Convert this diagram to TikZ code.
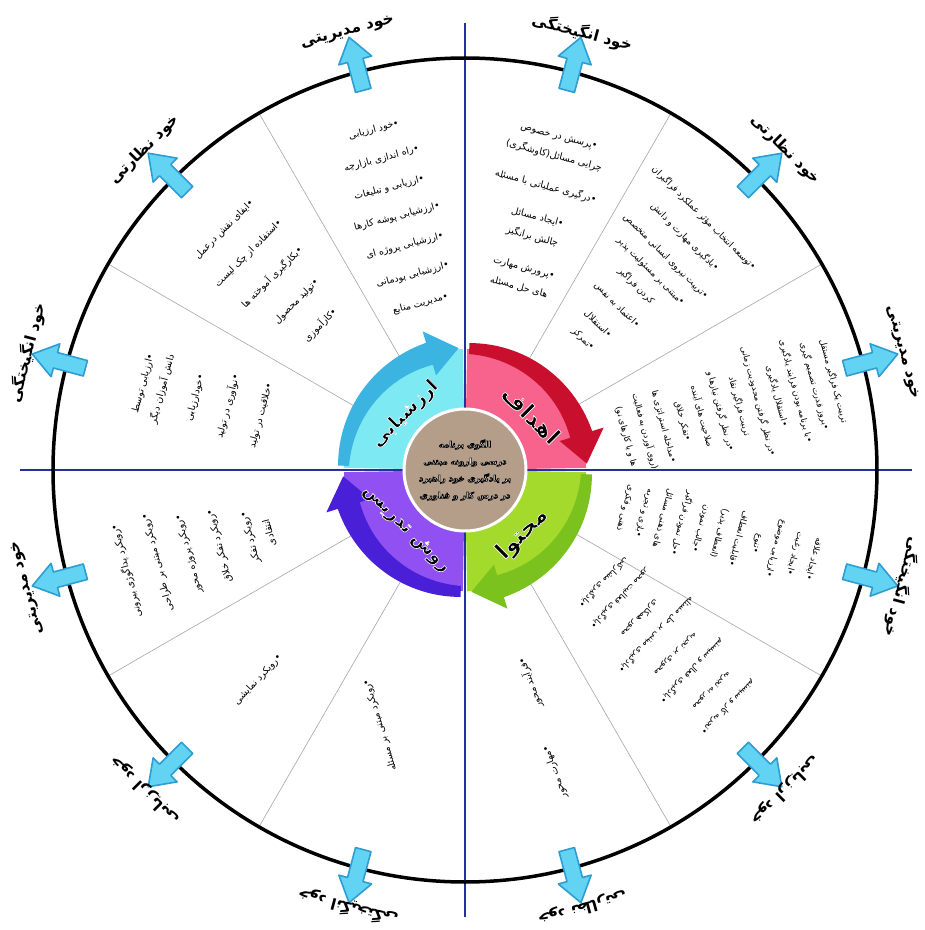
\documentclass[tikz,border=0pt]{standalone}
\usepackage{fontspec}
\TeXXeTstate=1
\newfontfamily\pfont[Script=Arabic]{DejaVu Sans}
\newcommand{\fa}[1]{\beginR #1\endR}
% text with a stroked outline (PDF text render mode 2)
\newcommand{\strokeon}[2]{\special{pdf:literal direct 2 Tr #1 RG #2 w}}
\newcommand{\strokeoff}{\special{pdf:literal direct 0 Tr}}
\definecolor{pinkq}{HTML}{F7638C}
\definecolor{redb}{HTML}{C8102E}
\definecolor{greenq}{HTML}{A3DA2B}
\definecolor{greenb}{HTML}{7CC21F}
\definecolor{purpq}{HTML}{9050F2}
\definecolor{purpb}{HTML}{4A1FD8}
\definecolor{cyanq}{HTML}{7DEAF3}
\definecolor{cyanb}{HTML}{3BB4E2}
\definecolor{centerc}{HTML}{B49E89}
\definecolor{axisblue}{HTML}{24309E}
\definecolor{arrowfill}{HTML}{62D3F2}
\definecolor{arrowline}{HTML}{2E9DD4}
\begin{document}
\begin{tikzpicture}[x=1pt,y=1pt,
  sect/.style={font=\pfont\fontsize{9.5}{20}\selectfont, align=center, inner sep=0pt, text=black},
  sectsmall/.style={font=\pfont\fontsize{8.5}{19.5}\selectfont, align=center, inner sep=0pt, text=black},
  olab/.style={font=\pfont\bfseries\fontsize{15.5}{18}\selectfont, inner sep=0pt},
  qlab/.style={font=\pfont\bfseries\fontsize{23}{26}\selectfont, inner sep=0pt, text=black},
  ctext/.style={font=\pfont\bfseries\fontsize{8.5}{17}\selectfont, align=center, inner sep=0pt, text=white},
  oarrow/.style={fill=arrowfill, draw=arrowline, line width=1.6pt, line join=round},
  axisline/.style={draw=axisblue, line width=1.4pt},
  secline/.style={draw=black!35, line width=0.6pt}]
\useasboundingbox (-465,-460) rectangle (460,470);
\fill[white] (-465,-460) rectangle (460,470);
% sector lines
\foreach \a in {30,60,120,150,210,240,300,330}
  \draw[secline] (\a:122) -- (\a:412);
% axes
\draw[axisline] (-445,0) -- (447,0);
\draw[axisline] (0,447) -- (0,-447);
% big circle
\draw[line width=3.5pt] (0,0) circle[radius=412];
% outer arrows
\foreach \a in {15,45,...,345}
  \draw[oarrow, rotate=\a] (393,-8) -- (424,-8) -- (424,-17) -- (448,0) -- (424,17) -- (424,8) -- (393,8) -- cycle;
% outer labels
\foreach \a/\t [count=\i] in {75/خود انگیختگی, 45/خود نظارتی, 15/خود مدیریتی, 345/خود انگیختگی, 315/خود ارزیابی, 285/خود نظارتی, 255/خود انگیختگی, 225/خود ارزیابی, 195/خود مدیریتی, 165/خود انگیختگی, 135/خود نظارتی, 105/خود مدیریتی}
  \node[olab, rotate=\a-90] (lab\i) at (\a:453) {\fa{\t}};
% quadrant fills
\fill[pinkq] (0,0) -- (1:121) arc[start angle=1, end angle=89, radius=121] -- cycle;
\fill[cyanq] (0,0) -- (91:121) arc[start angle=91, end angle=179, radius=121] -- cycle;
\fill[purpq] (0,0) -- (181:121) arc[start angle=181, end angle=269, radius=121] -- cycle;
\fill[greenq] (0,0) -- (271:121) arc[start angle=271, end angle=359, radius=121] -- cycle;
% curved arrow bands
\foreach \c/\t/\h/\p in {redb/88/17/3, greenb/358/287/273, purpb/268/197/183, cyanb/178/107/93}{
  \fill[\c] plot[domain=0:1, samples=40, variable=\s] ({\t+(\h-\t)*\s}:{127+6*\s})
    -- (\h:145) -- (\p:122) -- (\h:99)
    -- plot[domain=0:1, samples=40, variable=\s] ({\h+(\t-\h)*\s}:{110+6*\s}) -- cycle;
}
% center circle
\fill[centerc, draw=white, line width=3pt] (0,0) circle[radius=61];
\node[ctext] (center) at (0,0) {\strokeon{0 0 0}{0.7}\fa{الگوی برنامه}\\
  \fa{درسی وارونه مبتنی}\\
  \fa{بر یادگیری خود راهبرد}\\
  \fa{در درس کار و فناوری}\strokeoff};
% quadrant labels
\node[qlab, rotate=-45] (qa) at (40:86) {\strokeon{1 1 1}{0.6}\fa{اهداف}\strokeoff};
\node[qlab, rotate=45] (qb) at (312:86) {\strokeon{1 1 1}{0.6}\fa{محتوا}\strokeoff};
\node[qlab, rotate=-45, font=\pfont\bfseries\fontsize{18.5}{20}\selectfont] (qc) at (225:84) {\strokeon{1 1 1}{0.6}\fa{روش تدریس}\strokeoff};
\node[qlab, rotate=45, font=\pfont\bfseries\fontsize{18.5}{20}\selectfont] (qd) at (137:82) {\strokeon{1 1 1}{0.6}\fa{ارزشیابی}\strokeoff};
% sector texts
\node[sect, rotate=-15] (s75) at (74:268) {\fa{•پرسش در خصوص}\\\fa{چرایی مسائل(کاوشگری)}\\[12pt]
  \fa{•درگیری عملیاتی با مسئله}\\[12pt]\fa{•ایجاد مسائل}\\\fa{چالش برانگیز}\\[12pt]
  \fa{•پرورش مهارت}\\\fa{های حل مسئله}};
\node[sect, rotate=-45, font=\pfont\fontsize{9}{21}\selectfont] (s45) at (47:262) {\fa{•توسعه انتخاب مؤثر عملکرد فراگیران}\\[6pt]
  \fa{•یادگیری مهارت و دانش}\\[6pt]\fa{•تربیت نیروی انسانی متخصص}\\\fa{•مبتنی بر مسئولیت پذیر}\\
  \fa{کردن فراگیر}\\[6pt]\fa{•اعتماد به نفس}\\[6pt]\fa{•استقلال}\\\fa{•تمرکز}};
\node[sectsmall, rotate=-75] (s15) at (13:272) {\fa{تربیت یک فراگیر مستقل}\\\fa{•بروز قدرت تصمیم گیری}\\
  \fa{•با برنامه بودن فرایند یادگیری}\\\fa{•استقلال یادگیری}\\\fa{•در نظر گرفتن محدودیت زمانی}\\
  \fa{تربیت فراگیر نقاد}\\\fa{•در نظر گرفتن نیازها و}\\\fa{صلاحیت های آینده}\\\fa{•تفکر خلاق}\\
  \fa{•مداخله استراتژی ها}\\\fa{(روی آوردن به فعالیت}\\\fa{ها و یا کارهای نو)}};
\node[sectsmall, rotate=255] (s345) at (346:262) {\fa{•ایجاد علاقه}\\\fa{•ایجاد رغبت}\\\fa{•ارزیابی موضوع}\\
  \fa{•تنوع}\\\fa{•قابلیت انعطاف}\\\fa{(انعطاف پذیر)}\\\fa{•جالب نمودن}\\\fa{•حل نمودن فراگیر}\\
  \fa{های ذهنی مسائل}\\\fa{•بازی و تجربه}\\\fa{ذهنی و فکری}};
\node[sectsmall, rotate=225, font=\pfont\fontsize{8.5}{23}\selectfont] (s315) at (319:266) {\fa{•تجربه کار و سیستم}\\\fa{محور به تجربه}\\[5pt]
  \fa{•یادگیری فعال و سیستم}\\\fa{محوری بر تجربه}\\[5pt]\fa{•یادگیری مبتنی بر حل مسئله}\\
  \fa{محور همکاری}\\[5pt]\fa{•یادگیری فعالیت محور}\\\fa{•یادگیری مشارکتی}};
\node[sect, rotate=110] (s285a) at (65,-213) {\fa{•فرآیند محور}};
\node[sect, rotate=110] (s285b) at (90,-302) {\fa{•مهارت محور}};
\node[sect, rotate=107] (s255) at (-85,-255) {\fa{•رویکرد مبتنی بر مسئله}};
\node[sect, rotate=47] (s225) at (-207,-210) {\fa{•رویکرد نمایشی}};
\node[sect, rotate=105] (s195) at (197:280) {\fa{•رویکرد پداگوژی بیرونی}\\[12pt]
  \fa{•رویکرد مبتنی بر طراحی}\\[12pt]\fa{•رویکرد پروژه محور}\\[12pt]\fa{•رویکرد تفکر خلاق}\\[12pt]
  \fa{•رویکرد تفکر}\\\fa{انتقادی}};
\node[sect, rotate=75] (s165) at (165:272) {\fa{•ارزیابی توسط}\\\fa{دانش آموزان دیگر}\\[14pt]
  \fa{•خودارزیابی}\\[14pt]\fa{•نوآوری در تولید}\\[14pt]\fa{•خلاقیت در تولید}};
\node[sect, rotate=45] (s135) at (135:272) {\fa{•ایفای نقش درعمل}\\[14pt]\fa{•استفاده از چک لیست}\\[14pt]
  \fa{•بکارگیری آموخته ها}\\[14pt]\fa{•تولید محصول}\\[14pt]\fa{•کارآموزی}};
\node[sect, rotate=15] (s105) at (105:262) {\fa{•خود ارزیابی}\\[10pt]\fa{•راه اندازی بازارچه}\\[10pt]
  \fa{•ارزیابی و تبلیغات}\\[10pt]\fa{•ارزشیابی پوشه کارها}\\[10pt]\fa{•ارزشیابی پروژه ای}\\[10pt]
  \fa{•ارزشیابی پودمانی}\\[10pt]\fa{•مدیریت منابع}};
\end{tikzpicture}
\end{document}
